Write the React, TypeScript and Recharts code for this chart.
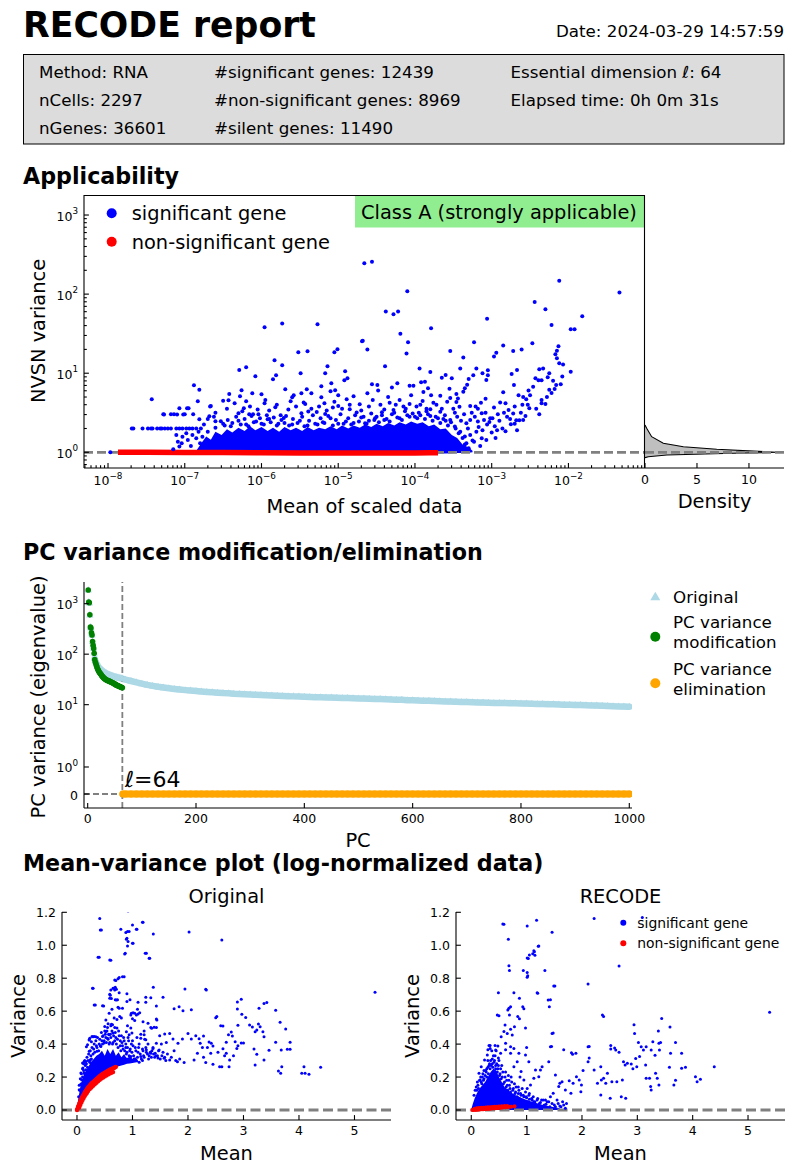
import React from 'react';
import { ComposedChart, Scatter, XAxis, YAxis, Area, Line, ReferenceLine } from 'recharts';

const FONT = '"DejaVu Sans", Verdana, sans-serif';
const TFS = 12.5;
const BLUE = '#0000ff';
const RED = '#ff0000';
const GRAY = '#808080';

// ---------------- header ----------------
const REPORT_TITLE = 'RECODE report';
const REPORT_DATE = 'Date: 2024-03-29 14:57:59';
const INFO_COL1 = ['Method: RNA', 'nCells: 2297', 'nGenes: 36601'];
const INFO_COL2 = ['#significant genes: 12439', '#non-significant genes: 8969', '#silent genes: 11490'];
const INFO_COL3 = ['Essential dimension \u2113: 64', 'Elapsed time: 0h 0m 31s'];

// ---------------- applicability (values as [log10 mean, log10 NVSN variance]) ----------------
const SIG_GENES_LOG: number[][] = [
  [-5.96,1.58],[-5.73,1.63],[-5.27,1.62],[-4.69,1.405],[-6.29,1.04],[-6.2,1.076],[-6.08,0.962],[-5.52,1.266],[-5.4,1.278],[-5.05,1.266],[-5.01,1.304],[-5.83,1.165],[-5.73,1.1],[-5.85,0.924],[-5.81,0.975],[-5.49,1.0],[-5.17,1.0],[-5.14,1.089],[-5.09,0.873],[-5.22,0.835],[-4.92,0.911],[-4.88,0.937],[-4.91,1.025],[-5.69,0.797],[-5.58,0.722],[-5.48,0.747],[-5.41,0.797],[-5.35,0.747],[-5.22,0.696],[-5.1,0.772],[-5.0,0.722],[-5.04,0.785],[-4.89,0.671],[-4.72,0.608],[-4.85,0.544],[-4.76,0.502],[-5.07,0.565],[-5.0,0.586],[-5.18,0.62],[-5.43,0.612],[-5.28,0.51],[-5.17,0.485],[-5.62,0.646],[-5.6,0.696],[-5.48,0.494],[-5.39,0.515],[-5.82,0.57],[-5.75,0.468],[-5.71,0.435],[-5.96,0.62],[-6.0,0.734],[-6.12,0.747],[-6.26,0.785],[-6.28,0.709],[-6.2,0.646],[-6.43,0.658],[-6.23,0.557],[-6.3,0.494],[-6.16,0.481],[-6.11,0.481],[-6.04,0.481],[-5.92,0.418],[-6.53,0.392],[-6.67,0.578],[-6.83,0.646],[-6.88,0.848],[-6.97,0.557],[-7.0,0.481],[-6.89,0.481],[-6.81,0.418],[-6.68,0.456],[-6.6,0.392],[-7.28,0.481],[-7.18,0.481],[-7.14,0.481],
  [-7.69,0.301],[-7.67,0.301],[-7.55,0.301],[-7.48,0.301],[-7.44,0.301],[-7.42,0.301],[-7.36,0.301],[-7.32,0.301],[-7.3,0.301],[-7.26,0.301],[-7.22,0.301],[-7.18,0.301],[-7.11,0.301],[-7.07,0.301],[-7.03,0.301],[-6.98,0.301],[-6.94,0.301],[-6.9,0.301],[-6.85,0.301],[-6.79,0.301],
  [-7.27,0.477],[-7.1,0.477],[-7.02,0.477],[-7.07,0.556],[-6.95,0.556],[-6.81,0.79],[-6.66,0.585],[-6.5,0.652],[-6.42,0.737],[-7.43,0.67],
  [-7.15,0.038],[-7.09,0.135],[-7.03,0.198],[-7.04,0.114],[-6.98,0.24],[-6.96,0.156],[-6.92,0.08],[-6.9,0.22],[-6.85,0.177],[-6.82,0.26],[-6.8,0.114],[-6.77,0.198],[-6.73,0.072],[-6.7,0.26],[-7.11,0.22],[-7.07,0.072],[-7.97,0.0],
  [-6.5,0.36],[-6.3,0.4],[-6.1,0.38],[-5.9,0.42],[-5.7,0.37],[-5.5,0.4],[-5.3,0.36],[-5.1,0.43],[-4.9,0.39],[-4.7,0.44],[-4.5,0.45],[-4.4,0.41],[-4.3,0.48],[-4.1,0.47],[-3.95,0.5],[-3.8,0.46],[-3.7,0.43],[-3.6,0.4],[-6.4,0.33],[-5.6,0.35],[-4.6,0.4],[-4.0,0.45],[-6.6,0.31],[-6.2,0.35],[-5.8,0.34],[-5.2,0.38],[-4.8,0.37],[-4.2,0.43],[-3.85,0.52],[-6.0,0.36],[-5.4,0.34],[-5.0,0.36],
  [-6.48,0.34],[-6.44,0.41],[-6.38,0.37],[-6.33,0.45],[-6.27,0.35],[-6.22,0.42],[-6.17,0.33],[-6.13,0.46],[-6.07,0.39],[-6.02,0.43],[-5.97,0.35],[-5.93,0.47],[-5.88,0.38],[-5.84,0.44],[-5.78,0.36],[-5.74,0.41],[-5.68,0.46],[-5.64,0.34],[-5.59,0.42],[-5.53,0.37],[-5.47,0.45],[-5.44,0.33],[-5.38,0.4],[-5.33,0.47],[-5.27,0.35],[-5.23,0.43],[-5.18,0.37],[-5.13,0.46],[-5.07,0.34],[-5.03,0.41],[-4.97,0.48],[-4.93,0.36],[-4.87,0.43],[-4.83,0.35],[-4.78,0.47],[-4.73,0.39],[-4.67,0.45],[-4.63,0.36],[-4.57,0.49],[-4.53,0.41],[-4.47,0.38],[-4.43,0.47],[-4.37,0.42],[-4.33,0.39],[-4.27,0.5],[-4.23,0.44],[-4.17,0.41],[-4.13,0.52],[-4.07,0.45],[-4.03,0.49],[-3.97,0.43],[-3.93,0.47],[-3.87,0.42],[-3.83,0.48],[-3.77,0.4],[-3.73,0.45],[-3.67,0.37],[-3.63,0.42],[-3.57,0.34],[-3.53,0.38],[-3.47,0.3],[-3.43,0.24],[-3.38,0.18],[-3.35,0.1],[-3.3,0.05],
  [-6.45,0.55],[-6.35,0.62],[-6.25,0.52],[-6.15,0.58],[-6.05,0.54],[-5.95,0.66],[-5.9,0.53],[-5.8,0.6],[-5.65,0.54],[-5.55,0.58],[-5.45,0.63],[-5.35,0.55],[-5.25,0.58],[-5.15,0.53],[-5.05,0.64],[-4.95,0.55],[-4.85,0.6],[-4.8,0.71],[-4.7,0.53],[-4.6,0.58],[-4.55,0.66],[-4.45,0.6],[-4.4,0.54],[-4.35,0.7],[-4.25,0.6],[-4.2,0.66],[-4.12,0.55],[-4.05,0.72],[-3.98,0.58],[-3.9,0.65],[-3.85,0.55],[-3.72,0.6],[-3.65,0.55],[-3.58,0.64],[-3.5,0.55],[-3.44,0.68],[-6.6,0.5],[-6.7,0.42],[-6.75,0.35],[-6.62,0.45],
  [-3.4,0.4],[-3.36,0.48],[-3.31,0.3],[-3.26,0.5],[-3.17,0.32],[-3.12,0.28],[-3.06,0.35],[-3.0,0.25],[-2.96,0.33],[-2.9,0.4],[-2.86,0.3],[-2.8,0.45],[-2.76,0.42],[-2.7,0.36],[-2.62,0.5],[-2.56,0.46],[-2.53,0.6],[-3.35,0.2],[-3.25,0.15],[-3.15,0.08],[-3.38,0.05],[-3.45,0.45],[-3.48,0.5],[-3.18,0.55],[-3.08,0.5],[-2.92,0.48],[-2.84,0.5],[-2.7,0.58],[-2.42,0.55],[-2.35,0.62],[-2.28,0.7],[-2.22,0.75],[-2.18,0.8],[-2.16,0.85],
  [-4.66,2.39],[-4.56,2.41],[-4.1,2.035],[-4.38,1.78],[-4.28,1.745],[-4.22,1.78],[-4.19,1.5],[-3.79,1.57],[-4.09,1.39],[-4.11,1.25],[-4.68,1.41],[-4.62,1.3],[-3.06,1.69],[-2.12,2.17],[-1.335,2.02],[-2.44,1.9],[-2.3,1.81],[-2.22,1.61],[-1.82,1.72],[-1.97,1.555],[-1.92,1.555],[-2.47,1.38],[-3.23,1.39],[-3.54,1.28],[-3.37,1.2],[-2.85,1.35],[-2.72,1.28],[-2.61,1.3],[-2.94,1.26],[-2.97,1.21],[-2.13,1.34],[-2.15,1.285],[-2.17,1.24],[-2.15,1.19],[-2.12,1.125],[-2.07,1.11],[-1.97,1.02],[-2.08,0.96],[-2.1,0.86],[-2.2,0.905],[-2.25,0.79],[-2.25,1.0],[-2.33,1.06],[-2.38,1.05],[-2.27,0.95],[-2.35,0.91],[-2.39,0.91],[-2.43,0.935],[-2.46,0.83],[-2.52,0.78],[-2.5,0.72],[-2.55,0.67],[-2.59,0.7],[-2.65,0.72],[-2.6,0.6],[-2.51,0.556],[-2.38,0.48],[-2.3,0.61],[-2.35,0.66],[-2.67,1.04],[-2.74,0.99],[-2.71,0.85],[-2.85,0.76],[-2.89,0.63],[-2.82,0.62],[-2.78,0.535],[-2.72,0.49],[-2.68,0.405],[-2.59,0.41],[-2.64,0.405],[-2.82,0.265],[-2.67,0.278],[-2.75,0.354],[-2.93,0.278],[-2.95,0.18],[-2.99,0.43],[-3.03,0.383],[-2.97,0.565],[-3.05,1.037],[-3.05,0.973],[-3.07,0.914],[-3.12,1.0],[-3.2,1.06],[-3.24,0.973],[-3.3,0.927],[-3.32,0.855],[-3.35,0.81],[-3.37,0.767],[-3.41,1.06],[-3.52,0.935],[-3.6,0.978],[-3.65,0.944],[-3.8,1.016],[-3.87,0.893],[-3.92,0.885],[-3.94,1.06],[-4.02,0.84],[-3.89,0.763],[-3.83,0.81],[-3.79,0.72],[-3.67,0.716],[-3.55,0.805],[-3.46,0.737],[-3.54,0.687],[-3.46,0.636],[-3.42,0.577],[-3.28,0.586],[-3.21,0.58],[-3.14,0.628],[-3.08,0.678],[-3.13,0.493],[-3.22,0.45],[-3.28,0.41],[-3.33,0.367],[-3.18,0.388],[-3.1,0.41],[-3.02,0.43],[-3.2,0.26],[-3.13,0.177],[-3.07,0.156],[-3.23,0.135],[-3.33,0.114],[-3.28,0.22],[-3.41,0.26],[-3.48,0.325],[-3.54,0.41],[-3.61,0.47],[-3.67,0.514],[-4.07,0.84],[-4.23,0.872],[-4.3,0.82],[-4.48,0.78],[-4.49,0.85],[-4.56,0.86],[-4.62,0.746],[-4.39,1.087],[-4.07,0.61],[-4.15,0.58],[-4.28,0.535],[-4.43,0.506],[-4.52,0.43],[-4.65,0.367],[-4.33,0.628],[-3.93,0.6],[-3.8,0.544],[-3.76,0.628],
];
// densely packed significant genes: upper edge of the packed cloud, [log10 mean, log10 low, log10 high]
const SIG_CORE_LOG: number[][] = [
  [-6.85,0,0.02],[-6.78,0,0.12],[-6.72,0,0.2],[-6.66,0,0.16],[-6.6,0,0.26],[-6.52,0,0.22],[-6.45,0,0.29],[-6.38,0,0.25],[-6.3,0,0.31],[-6.22,0,0.27],[-6.15,0,0.33],[-6.08,0,0.28],[-6.0,0,0.32],[-5.92,0,0.27],[-5.85,0,0.31],[-5.77,0,0.26],[-5.7,0,0.32],[-5.62,0,0.28],[-5.55,0,0.31],[-5.47,0,0.27],[-5.4,0,0.32],[-5.32,0,0.28],[-5.25,0,0.31],[-5.17,0,0.29],[-5.1,0,0.33],[-5.02,0,0.29],[-4.95,0,0.34],[-4.87,0,0.3],[-4.8,0,0.34],[-4.72,0,0.31],[-4.65,0,0.35],[-4.57,0,0.32],[-4.5,0,0.36],[-4.42,0,0.33],[-4.35,0,0.37],[-4.27,0,0.34],[-4.2,0,0.38],[-4.12,0,0.35],[-4.05,0,0.39],[-3.97,-0.005,0.36],[-3.9,-0.01,0.38],[-3.82,-0.012,0.33],[-3.75,-0.015,0.35],[-3.67,-0.015,0.29],[-3.6,-0.015,0.3],[-3.52,-0.012,0.22],[-3.45,-0.01,0.18],[-3.38,-0.008,0.1],[-3.3,-0.005,0.06],[-3.25,0,0.02],
];
// non-significant genes: centre line of their band, [log10 mean, log10 NVSN variance]
const NONSIG_BAND_LOG: number[][] = [
  [-7.87,0.0],[-7.5,0.0],[-7.0,-0.002],[-6.5,-0.004],[-6.0,-0.006],[-5.5,-0.008],[-5.0,-0.008],[-4.5,-0.008],[-4.0,-0.008],[-3.8,-0.007],[-3.7,-0.005],
];
// density of NVSN variance
const DENSITY_NV = [0.855, 0.88, 0.924, 0.971, 1.0, 1.017, 1.091, 1.177, 1.3, 1.575, 2.01, 2.21];
const DENSITY_VAL = [0, 0.32, 2.1, 8.5, 12.66, 11.7, 6.9, 3.69, 1.76, 0.64, 0.16, 0];

const APP_X_DOMAIN = [4.864e-9, 0.0995];
const APP_Y_DOMAIN = [0.6333, 1791];
const DENS_X_TICKS = [0, 5, 10];

// ---------------- PC variance ----------------
const MODIFIED_VALUES = [1870,1080,1040,600,345,330,265,240,178,150,130,104,78,70,66,60,56,52,49,47,45,43,42,40.5,39,37.5,36.5,35.5,34.5,33.5,33,32.3,31.8,31.2,30.8,30.4,30.1,29.8,29.5,29.2,28.8,28.5,28.1,27.8,27.5,27.1,26.8,26.4,26.0,25.6,25.2,24.9,24.6,24.3,24.0,23.7,23.4,23.1,22.8,22.6,22.3,22.1,21.9,21.6];
const ORIGINAL_PCS = [1,2,3,4,5,6,7,8,9,10,11,12,13,14,15,16,17,18,19,20,22,24,26,28,30,32,34,36,38,40,42,44,46,48,50,52,54,56,58,60,62,64,70,80,90,100,110,120,130,140,150,160,170,180,190,200,210,220,230,240,250,260,270,280,290,300,310,320,330,340,350,360,370,380,390,400,410,420,430,440,450,460,470,480,490,500,510,520,530,540,550,560,570,580,590,600,610,620,630,640,650,660,670,680,690,700,710,720,730,740,750,760,770,780,790,800,810,820,830,840,850,860,870,880,890,900,910,920,930,940,950,960,970,980,990,1000];
const ORIGINAL_VALUES = [1870,1080,1040,600,345,330,265,240,178,152,132,106,82,75,71,67,64,61,58,56,53,50.5,48.3,46.3,44.6,43.1,41.8,40.7,39.8,39.0,38.3,37.6,37.0,36.4,35.9,35.4,34.9,34.4,34.0,33.6,33.2,32.8,31.3,29.4,27.7,26.1,24.7,23.6,22.6,21.8,21.1,20.5,19.9,19.4,19.0,18.6,18.2,17.9,17.6,17.3,17.0,16.8,16.5,16.3,16.1,15.9,15.7,15.5,15.35,15.2,15.05,14.9,14.75,14.6,14.5,14.35,14.2,14.1,14.0,13.9,13.8,13.7,13.6,13.5,13.4,13.3,13.2,13.1,13.0,12.9,12.8,12.7,12.55,12.45,12.3,12.2,12.1,12.0,11.9,11.8,11.7,11.6,11.5,11.4,11.3,11.25,11.15,11.05,11.0,10.9,10.85,10.8,10.75,10.7,10.65,10.6,10.5,10.4,10.35,10.3,10.25,10.2,10.1,10.0,9.95,9.9,9.8,9.7,9.65,9.6,9.5,9.4,9.3,9.25,9.15,9.1];
const ELIMINATION_PCS = [65,70,80,90,100,110,120,130,140,150,160,170,180,190,200,210,220,230,240,250,260,270,280,290,300,310,320,330,340,350,360,370,380,390,400,410,420,430,440,450,460,470,480,490,500,510,520,530,540,550,560,570,580,590,600,610,620,630,640,650,660,670,680,690,700,710,720,730,740,750,760,770,780,790,800,810,820,830,840,850,860,870,880,890,900,910,920,930,940,950,960,970,980,990,1000];
const ELIMINATED_VARIANCE = 0;
const ELL = 64;
const PC_X_TICKS = [0, 200, 400, 600, 800, 1000];
const PC_Y_TICKS = [0, 1, 10, 100, 1000];
const SYM_T = 2;
const SYM_ADJ = 1.07;
const symlog = (v: number) => (v <= SYM_T ? v * SYM_ADJ : SYM_T * (SYM_ADJ + Math.log10(v / SYM_T)));

// ---------------- mean-variance (Original) ----------------
const ORIG_SIG: number[][] = [
  [0.92,1.208],[0.41,1.163],[0.42,1.093],[1.0,1.123],[0.88,1.077],[0.91,1.083],[1.07,1.097],[1.18,1.139],[1.375,1.068],[1.0,1.012],[0.89,1.036],[0.91,0.996],[0.86,0.947],[1.23,0.951],[1.3,0.921],[0.59,0.911],[0.38,0.927],[2.02,1.08],[2.61,1.032],[1.945,0.734],[2.32,0.733],[2.33,0.729],[5.37,0.714],[0.28,0.739],[0.31,0.637],[0.46,0.633],[1.375,0.745],[1.55,0.684],[1.43,0.631],[1.33,0.682],[1.24,0.654],[1.91,0.603],[1.84,0.627],[2.06,0.609],[1.75,0.615],[2.52,0.567],[2.5,0.56],[2.89,0.656],[2.96,0.672],[2.89,0.613],[2.97,0.581],[3.04,0.561],[3.28,0.617],[3.37,0.646],[3.42,0.652],[3.58,0.605],[3.66,0.532],[3.76,0.492],
  [2.59,0.512],[2.63,0.51],[2.9,0.514],[2.78,0.473],[2.73,0.457],[2.8,0.449],[2.69,0.411],[2.85,0.415],[2.9,0.39],[2.96,0.407],[3.0,0.407],[3.11,0.516],[3.16,0.504],[3.21,0.475],[3.24,0.486],[3.3,0.506],[3.27,0.522],[3.35,0.475],[3.37,0.445],[3.19,0.37],[3.24,0.338],[3.21,0.273],[3.37,0.304],[3.46,0.362],[3.58,0.411],[3.68,0.364],[3.79,0.368],[3.84,0.368],[3.84,0.411],[3.63,0.237],[3.67,0.223],[3.69,0.263],[4.05,0.223],[4.09,0.263],[4.11,0.223],[4.18,0.217],[4.39,0.259],
  [2.57,0.263],[2.61,0.263],[2.74,0.263],[2.45,0.277],[2.28,0.32],[2.32,0.289],[2.41,0.344],[2.26,0.38],[2.35,0.38],[2.2,0.433],[2.28,0.449],[2.22,0.405],[2.45,0.389],[2.38,0.413],[2.42,0.405],[2.54,0.35],[2.66,0.33],[2.69,0.344],[2.63,0.372],[2.75,0.304],[2.82,0.33],[2.88,0.374],
  [2.06,0.431],[2.14,0.451],[2.0,0.465],[1.9,0.431],[1.82,0.405],[1.73,0.431],[1.67,0.465],[1.58,0.461],[1.49,0.451],[1.61,0.409],[1.52,0.4],[1.43,0.405],[1.37,0.374],[1.48,0.364],[1.57,0.314],[1.67,0.304],[1.85,0.31],[1.81,0.293],[1.93,0.289],[2.11,0.304],[2.17,0.344],
  [1.345,0.496],[1.39,0.502],[1.43,0.552],[1.28,0.526],[1.21,0.48],[1.19,0.536],[1.13,0.591],[1.07,0.577],[1.01,0.591],[0.97,0.577],[1.09,0.611],[1.24,0.684],[1.1,0.654],
  [0.74,0.623],[0.71,0.668],[0.76,0.712],[0.68,0.728],[0.65,0.739],[0.61,0.728],[0.59,0.702],[0.68,0.789],[0.74,0.797],[0.82,0.809],[0.85,0.809],[0.59,0.678],
  [0.22,0.425],[0.23,0.435],[0.26,0.415],[0.29,0.445],[0.34,0.445],[0.17,0.384],
  [0.44,1.093],[0.79,1.097],[0.94,1.083],[1.19,1.139],[1.08,1.097],[0.9,1.042],[0.92,1.022],[1.01,1.012],[0.87,0.952],[1.25,0.952],[1.31,0.921],[0.4,0.927],[0.61,0.909],[0.7,0.786],[0.76,0.804],[0.29,0.739],[0.66,0.739],[0.71,0.733],[0.69,0.745],[0.9,0.705],[0.33,0.638],[0.48,0.632],[0.6,0.697],[0.62,0.677],[0.69,0.669],[0.73,0.669],[0.76,0.618],[0.82,0.618],[0.9,0.658],[0.955,0.669],[0.98,0.588],[1.04,0.588],[1.1,0.582],[1.0,0.554],[1.04,0.543],[0.63,0.612],[0.58,0.588],[0.8,0.558],[0.67,0.558],[0.77,0.568],[0.52,0.547],[0.56,0.523],[0.5,0.507],[0.61,0.511],[0.72,0.497],[0.91,0.511],[0.97,0.497],[0.89,0.475],[0.94,0.457],[0.99,0.467],[1.21,0.457],[1.15,0.436],[1.24,0.426],[1.33,0.501],[1.43,0.501],[1.44,0.547],[1.25,0.366],[1.33,0.345],[1.41,0.345],[1.46,0.315],[1.15,0.325],[1.06,0.305],[0.97,0.325],[0.31,0.446],[0.27,0.446],[0.22,0.426],[0.19,0.396],[0.16,0.295],[0.13,0.295],[0.1,0.285],[0.24,0.305],[0.22,0.356],[0.36,0.356],[0.43,0.386],[0.49,0.406],[0.55,0.436],[0.46,0.446],[0.645,0.467],[0.52,0.477],[0.58,0.457],[0.64,0.517],[0.07,0.224],[0.084,0.184],[0.06,0.154],[0.04,0.123],[0.13,0.224],[0.16,0.244],[0.107,0.255],[0.25,0.285],
  [1.0,0.42],[1.05,0.38],[1.1,0.35],[1.12,0.4],[1.18,0.37],[1.2,0.33],[1.25,0.35],[1.28,0.4],[1.3,0.33],[1.35,0.36],[1.38,0.34],[1.4,0.32],[1.45,0.33],[1.5,0.31],[1.55,0.35],[1.6,0.3],[1.02,0.33],[0.95,0.36],[0.98,0.4],[1.08,0.44],[1.15,0.46],[1.22,0.43],[0.92,0.44],[0.88,0.38],[0.85,0.42],[0.8,0.45],[0.75,0.48],[0.7,0.44],[0.65,0.41],[0.6,0.46],[0.55,0.5],[0.5,0.48],[0.45,0.42],[0.4,0.4],[0.35,0.39],[0.3,0.37],[0.25,0.33],[0.2,0.3],[0.15,0.27],[0.62,0.52],[0.68,0.5],[0.72,0.55],[0.78,0.42],[0.82,0.39],[0.9,0.35],[0.58,0.4],[0.52,0.44],
  [0.03,0.08],[0.05,0.12],[0.04,0.15],[0.06,0.19],[0.08,0.16],[0.08,0.22],[0.1,0.2],[0.1,0.25],[0.12,0.24],[0.12,0.28],[0.14,0.22],[0.14,0.3],[0.17,0.28],[0.18,0.32],[0.19,0.26],[0.21,0.34],[0.23,0.29],[0.24,0.36],[0.26,0.31],[0.27,0.38],[0.29,0.34],[0.31,0.4],[0.32,0.35],[0.34,0.42],[0.36,0.38],[0.37,0.44],[0.39,0.36],[0.41,0.43],[0.42,0.39],[0.44,0.47],[0.46,0.4],[0.47,0.45],[0.49,0.42],[0.51,0.46],[0.53,0.41],[0.54,0.48],[0.56,0.43],[0.57,0.46],[0.59,0.41],[0.61,0.44],[0.63,0.48],[0.64,0.4],[0.66,0.45],[0.68,0.42],[0.69,0.47],[0.71,0.4],[0.73,0.43],[0.74,0.38],[0.76,0.45],[0.78,0.39],[0.79,0.36],[0.81,0.41],[0.83,0.37],[0.84,0.44],[0.86,0.36],[0.88,0.4],[0.89,0.34],[0.91,0.38],[0.93,0.42],[0.94,0.33],[0.96,0.37],[0.99,0.35],[1.01,0.39],[1.03,0.31],[1.06,0.36],[1.09,0.32],[1.11,0.38],[1.14,0.34],[1.16,0.31],[1.19,0.36],[1.21,0.32],[1.24,0.38],[1.27,0.34],[1.29,0.31],[1.32,0.35],[1.34,0.32],[1.37,0.38],[1.42,0.33],[1.47,0.36],[1.53,0.33],[1.58,0.32],[1.63,0.34],[1.7,0.32],[1.75,0.36],[1.78,0.3],[0.8,0.3],[0.85,0.3],[0.9,0.31],[0.95,0.3],[1.0,0.3],[1.05,0.3],[0.75,0.29],[1.12,0.29],[1.18,0.3],
];
// dense part of the significant genes: [mean, low, high]
const ORIG_SIG_CORE: number[][] = [
  [0.0,0.0,0.005],[0.02,0.015,0.06],[0.04,0.03,0.1],[0.06,0.045,0.14],[0.09,0.065,0.18],[0.12,0.085,0.21],[0.16,0.108,0.24],[0.2,0.13,0.26],[0.25,0.15,0.29],[0.3,0.168,0.31],[0.35,0.182,0.33],[0.4,0.196,0.34],[0.45,0.208,0.36],[0.5,0.22,0.33],[0.55,0.23,0.37],[0.6,0.24,0.34],[0.65,0.25,0.37],[0.7,0.258,0.33],[0.75,0.265,0.35],[0.8,0.27,0.32],[0.85,0.275,0.34],[0.9,0.28,0.31],[0.95,0.283,0.33],[1.0,0.285,0.31],[1.05,0.288,0.32],[1.1,0.292,0.3],
];
const ORIG_NONSIG: number[][] = [
  [0.0,0.0],[0.01,0.01],[0.02,0.02],[0.03,0.028],[0.04,0.037],[0.05,0.045],[0.06,0.053],[0.07,0.06],[0.08,0.068],[0.09,0.075],[0.1,0.082],[0.115,0.091],[0.13,0.1],[0.145,0.109],[0.16,0.117],[0.175,0.125],[0.19,0.133],[0.205,0.139],[0.22,0.145],[0.235,0.151],[0.25,0.157],[0.265,0.162],[0.28,0.166],[0.295,0.171],[0.31,0.175],[0.325,0.18],[0.34,0.184],[0.355,0.189],[0.37,0.193],[0.385,0.198],[0.4,0.202],[0.415,0.206],[0.43,0.21],[0.445,0.214],[0.46,0.217],[0.475,0.221],[0.49,0.224],[0.505,0.227],[0.52,0.23],[0.535,0.233],[0.55,0.236],[0.565,0.239],[0.58,0.242],[0.595,0.244],[0.61,0.246],[0.625,0.249],[0.64,0.251],[0.655,0.254],[0.67,0.256],[0.685,0.259],[0.7,0.262],
  [0.04,0.015],[0.06,0.031],[0.08,0.046],[0.1,0.06],[0.12,0.073],[0.14,0.085],[0.16,0.095],[0.18,0.105],[0.2,0.115],[0.23,0.127],[0.26,0.137],[0.29,0.147],[0.32,0.156],[0.35,0.165],[0.38,0.174],[0.41,0.183],[0.44,0.191],[0.47,0.197],[0.5,0.204],[0.53,0.21],[0.56,0.216],[0.59,0.221],[0.62,0.226],[0.65,0.23],
];

// ---------------- mean-variance (RECODE) ----------------
const REC_SIG: number[][] = [
  [2.22,1.163],[3.09,1.168],[0.57,1.129],[1.01,1.117],[1.18,1.151],[1.46,1.079],[0.67,1.036],[1.21,0.994],[1.13,0.967],[1.11,0.949],[1.01,0.923],[1.03,0.919],[1.05,0.941],[0.68,0.876],[2.67,0.874],[0.69,0.846],[0.94,0.846],[1.01,0.834],[1.02,0.815],[1.01,0.805],[1.33,0.846],[1.19,0.712],[0.49,0.712],[0.77,0.712],[1.49,0.753],[2.11,0.765],[0.68,0.617],[0.71,0.627],[0.66,0.607],[0.87,0.678],[0.93,0.627],[0.95,0.615],[1.39,0.668],[1.41,0.627],[2.37,0.577],[2.39,0.567],[0.47,0.577],[0.69,0.577],[0.84,0.567],[0.87,0.554],[0.61,0.516],[0.98,0.498],[2.94,0.518],[2.95,0.465],[3.44,0.556],[3.59,0.504],[1.46,0.465],[0.48,0.389],[0.32,0.391],[0.34,0.374],[1.0,0.38],[1.43,0.384],[2.11,0.384],[3.02,0.409],[3.28,0.415],[3.39,0.405],[3.42,0.409],[3.69,0.409],[3.38,0.48],[3.07,0.384],[3.11,0.364],[3.16,0.384],[3.25,0.364],[3.32,0.332],
  [2.52,0.37],[2.61,0.364],[2.67,0.35],[2.75,0.293],[2.78,0.273],[2.82,0.283],[2.89,0.279],[2.92,0.251],[2.97,0.312],[3.04,0.324],[2.99,0.263],[3.15,0.273],[3.22,0.192],[3.24,0.142],[3.25,0.121],[3.16,0.192],[3.4,0.364],[3.6,0.344],[3.8,0.344],[3.87,0.259],[3.8,0.253],[3.66,0.152],[3.69,0.18],[3.58,0.259],[3.39,0.152],[3.36,0.192],[3.33,0.223],[4.05,0.202],[4.08,0.172],[4.14,0.186],[4.39,0.263],[5.39,0.593],
  [2.22,0.243],[2.28,0.162],[2.35,0.182],[2.39,0.192],[2.43,0.162],[2.34,0.091],[2.51,0.071],[2.54,0.172],[2.63,0.172],[2.73,0.182],[2.79,0.071],[2.71,0.081],[2.46,0.223],[2.34,0.263],[2.02,0.239],[2.11,0.293],[1.81,0.348],[1.89,0.344],
  [1.95,0.182],[1.99,0.152],[1.9,0.202],[1.84,0.162],[1.77,0.178],[1.7,0.121],[1.8,0.101],[1.98,0.111],[1.64,0.172],[1.6,0.162],[1.58,0.142],[1.52,0.212],[1.48,0.101],[1.43,0.081],[1.34,0.061],[1.4,0.293],
  [1.28,0.263],[1.22,0.202],[1.25,0.243],[1.16,0.243],[1.13,0.192],[1.07,0.152],[1.01,0.131],[0.95,0.182],[0.9,0.233],[0.83,0.293],[0.77,0.263],[1.04,0.293],[0.98,0.334],[0.86,0.344],[0.77,0.374],[0.71,0.384],[0.62,0.405],[0.54,0.445],[0.59,0.476],[0.65,0.465],[0.74,0.455],[0.78,0.506],[0.71,0.49],[0.44,0.364],[0.29,0.334],[0.24,0.304],[0.18,0.263],[0.14,0.223],[0.16,0.182],[0.23,0.239],
  [0.59,1.127],[1.22,0.996],[1.14,0.96],[1.15,0.94],[1.2,0.709],[1.43,0.669],[1.51,0.752],[1.48,0.467],[1.45,0.386],[1.67,0.366],[1.83,0.339],[2.13,0.386],[2.52,0.392],[2.59,0.376],[2.13,0.315],[0.5,0.572],[0.34,0.392],[0.3,0.366],[0.43,0.392],[0.49,0.315],[0.53,0.345],[0.62,0.366],[0.71,0.345],
  [0.1,0.12],[0.12,0.15],[0.18,0.17],[0.2,0.2],[0.25,0.21],[0.28,0.25],[0.32,0.27],[0.35,0.3],[0.38,0.28],[0.42,0.3],[0.44,0.27],[0.48,0.25],[0.52,0.22],[0.56,0.2],[0.6,0.17],[0.65,0.15],[0.7,0.13],[0.75,0.12],[0.8,0.11],[0.85,0.1],[0.9,0.09],[0.95,0.08],[1.0,0.075],[1.05,0.065],[1.1,0.06],[1.15,0.05],[1.25,0.045],[1.35,0.035],[1.5,0.03],[1.6,0.025],[1.65,0.05],[1.55,0.06],[1.4,0.05],[0.4,0.33],[0.37,0.36],[0.45,0.36],[0.5,0.3],[0.55,0.27],[0.3,0.3],[0.27,0.23],[0.22,0.18],[0.62,0.23],[0.68,0.18],[0.72,0.2],[0.78,0.16],[0.85,0.14],[0.88,0.2],[0.92,0.13],[0.98,0.11],[1.05,0.1],[1.12,0.08],[1.2,0.07],[1.3,0.06],
  [0.05,0.09],[0.07,0.12],[0.09,0.14],[0.11,0.17],[0.13,0.13],[0.15,0.18],[0.17,0.2],[0.19,0.16],[0.21,0.22],[0.23,0.19],[0.26,0.24],[0.28,0.2],[0.3,0.26],[0.31,0.22],[0.33,0.28],[0.34,0.25],[0.36,0.27],[0.38,0.31],[0.39,0.26],[0.41,0.29],[0.43,0.33],[0.44,0.25],[0.46,0.28],[0.47,0.23],[0.49,0.27],[0.51,0.21],[0.53,0.25],[0.54,0.19],[0.57,0.23],[0.58,0.16],[0.61,0.2],[0.63,0.14],[0.64,0.18],[0.66,0.12],[0.67,0.21],[0.69,0.15],[0.71,0.11],[0.73,0.17],[0.74,0.09],[0.76,0.13],[0.79,0.1],[0.81,0.14],[0.83,0.08],[0.86,0.12],[0.87,0.07],[0.89,0.1],[0.91,0.06],[0.94,0.09],[0.96,0.05],[0.99,0.08],[1.02,0.05],[1.04,0.09],[1.07,0.04],[1.09,0.07],[1.13,0.05],[1.17,0.03],[1.19,0.06],[1.23,0.04],[1.27,0.06],[1.32,0.03],[1.37,0.05],[1.42,0.02],[1.46,0.04],[1.52,0.02],[1.57,0.04],[1.62,0.02],[1.67,0.03],[1.7,0.01],[1.72,0.04],
];
const REC_SIG_CORE: number[][] = [
  [0.0,0.0,0.005],[0.03,0.0,0.04],[0.06,0.0,0.07],[0.1,0.0,0.1],[0.15,0.0,0.13],[0.2,0.0,0.15],[0.25,0.0,0.17],[0.3,0.0,0.2],[0.35,0.0,0.23],[0.4,0.0,0.25],[0.45,0.0,0.24],[0.5,0.0,0.2],[0.55,0.0,0.17],[0.6,0.0,0.14],[0.7,0.0,0.11],[0.8,0.0,0.09],[0.9,0.0,0.075],[1.0,0.0,0.06],[1.1,0.0,0.05],[1.2,0.0,0.04],[1.3,0.0,0.03],[1.45,0.0,0.02],[1.6,0.0,0.01],
];
const REC_NONSIG: number[][] = [
  [0.02,0.0],[0.04,0.001],[0.06,0.001],[0.08,0.002],[0.1,0.002],[0.12,0.003],[0.14,0.003],[0.16,0.004],[0.18,0.004],[0.2,0.005],[0.22,0.005],[0.24,0.006],[0.26,0.006],[0.28,0.007],[0.3,0.008],[0.32,0.008],[0.34,0.009],[0.36,0.009],[0.38,0.01],[0.4,0.01],[0.42,0.011],[0.44,0.011],[0.46,0.012],[0.48,0.012],[0.5,0.013],[0.53,0.014],[0.56,0.015],[0.59,0.016],[0.62,0.017],[0.65,0.018],[0.68,0.019],[0.72,0.02],[0.78,0.022],
  [0.06,0.008],[0.1,0.01],[0.14,0.012],[0.18,0.013],[0.22,0.014],[0.26,0.015],[0.3,0.016],[0.34,0.017],[0.38,0.018],[0.42,0.019],[0.46,0.02],[0.5,0.021],[0.55,0.022],[0.6,0.024],[0.65,0.025],
];
const MV_X_TICKS = [0, 1, 2, 3, 4, 5];
const MV_Y_TICKS = [0, 0.2, 0.4, 0.6, 0.8, 1.0, 1.2];
const MV_Y_DOMAIN = [-0.0607, 1.2018];

// ---------------- helpers ----------------
const isPow10 = (v: number) => v > 0 && Math.abs(Math.log10(v) - Math.round(Math.log10(v))) < 1e-6;
const powLabel = (e: number) => (
  <>
    10<tspan dy={-6.5} fontSize={8.8}>{e < 0 ? '\u2212' + -e : String(e)}</tspan>
  </>
);
const logFmt = (v: number) => (isPow10(v) ? powLabel(Math.round(Math.log10(v))) : null);
const intFmt = (v: number) => String(v);
const fixed1 = (v: number) => v.toFixed(1);
const symFmt = (t: number) => {
  const i = PC_Y_TICKS.findIndex((v) => Math.abs(symlog(v) - t) < 1e-6);
  if (i < 0) return null;
  const v = PC_Y_TICKS[i];
  return v === 0 ? '0' : powLabel(Math.round(Math.log10(v)));
};

function logTicks(lo: number, hi: number) {
  const out: number[] = [];
  for (let e = Math.floor(Math.log10(lo)); e <= Math.ceil(Math.log10(hi)); e++) {
    for (let k = 1; k <= 9; k++) {
      const v = k * Math.pow(10, e);
      if (v >= lo && v <= hi) out.push(v);
    }
  }
  return out;
}

function Tick(props: any) {
  const { x, y, payload, tside, tfmt, tdy } = props;
  const lab = tfmt(payload.value);
  const len = lab === null ? 2.8 : 4.9;
  if (tside === 'bottom') {
    return (
      <g>
        <line x1={x} x2={x} y1={y} y2={y - len} stroke="#000" strokeWidth={1.1} />
        {lab !== null && (
          <text x={x} y={y + tdy} textAnchor="middle" fontSize={TFS} fontFamily={FONT} fill="#000">{lab}</text>
        )}
      </g>
    );
  }
  return (
    <g>
      <line x1={x} x2={x + len} y1={y} y2={y} stroke="#000" strokeWidth={1.1} />
      {lab !== null && (
        <text x={x - 6} y={y + tdy} textAnchor="end" fontSize={TFS} fontFamily={FONT} fill="#000">{lab}</text>
      )}
    </g>
  );
}

const dot = (r: number, fill: string) => (p: any) => <circle cx={p.cx} cy={p.cy} r={r} fill={fill} />;
const tri = (fill: string) => (p: any) => (
  <polygon points={`${p.cx},${p.cy - 4} ${p.cx - 3.6},${p.cy + 2.6} ${p.cx + 3.6},${p.cy + 2.6}`} fill={fill} />
);
const AXIS_LINE = { stroke: '#000', strokeWidth: 1.1 };

// ---------------- derived rows ----------------
const appSigRows = SIG_GENES_LOG.map(([lx, ly]) => ({ x: Math.pow(10, lx), y: Math.pow(10, ly) }));
const appCoreRows = SIG_CORE_LOG.map(([lx, lo, hi]) => ({ x: Math.pow(10, lx), band: [Math.pow(10, lo), Math.pow(10, hi)] }));
const appNonSigRows = NONSIG_BAND_LOG.map(([lx, ly]) => ({ x: Math.pow(10, lx), y: Math.pow(10, ly) }));
const appDashRows = [{ x: APP_X_DOMAIN[0], y: 1 }, { x: APP_X_DOMAIN[1], y: 1 }];
const densityRows = DENSITY_NV.map((nv, i) => ({ nv, d: DENSITY_VAL[i] }));
const appXTicks = logTicks(APP_X_DOMAIN[0], APP_X_DOMAIN[1]);
const appYTicks = logTicks(APP_Y_DOMAIN[0], APP_Y_DOMAIN[1]);

const modRows = MODIFIED_VALUES.map((v, i) => ({ x: i + 1, y: symlog(v) }));
const origRows = ORIGINAL_PCS.map((pc, i) => ({ x: pc, y: symlog(ORIGINAL_VALUES[i]) }));
const elimRows = ELIMINATION_PCS.map((pc) => ({ x: pc, y: symlog(ELIMINATED_VARIANCE) }));

const toXY = (arr: number[][]) => arr.map(([x, y]) => ({ x, y }));
const toBand = (arr: number[][]) => arr.map(([x, lo, hi]) => ({ x, band: [lo, hi] }));

function MeanVarChart({ left, xDomain, sig, core, nonSig, redR }: any) {
  return (
    <div style={{ position: 'absolute', left, top: 900 }}>
      <ComposedChart width={400} height={260} margin={{ top: 12, right: 9, bottom: 0, left: 0 }}>
        <XAxis type="number" dataKey="x" domain={xDomain} allowDataOverflow ticks={MV_X_TICKS} interval={0}
          tickLine={false} tickSize={0} tickMargin={0} axisLine={AXIS_LINE} height={40}
          tick={<Tick tside="bottom" tfmt={intFmt} tdy={14.5} />} />
        <YAxis type="number" dataKey="y" domain={MV_Y_DOMAIN} allowDataOverflow ticks={MV_Y_TICKS} interval={0}
          tickLine={false} tickSize={0} tickMargin={0} axisLine={AXIS_LINE} width={62}
          tick={<Tick tside="left" tfmt={fixed1} tdy={4.5} />} />
        <ReferenceLine y={0} stroke={GRAY} strokeWidth={2.8} strokeDasharray="10 4.5" />
        <Area data={toBand(core)} dataKey="band" type="linear" stroke="none" fill={BLUE} fillOpacity={1} isAnimationActive={false} />
        <Scatter data={toXY(sig)} shape={dot(1.5, BLUE)} isAnimationActive={false} />
        <Scatter data={toXY(nonSig)} shape={dot(redR, RED)} isAnimationActive={false} />
      </ComposedChart>
    </div>
  );
}

const T = (props: any) => <text fontFamily={FONT} fill="#000" {...props} />;

export default function App() {
  return (
    <div style={{ position: 'absolute', left: 0, top: 0, width: 794, height: 1173, overflow: 'hidden', background: '#fff' }}>
      {/* Applicability scatter */}
      <div style={{ position: 'absolute', left: 0, top: 180 }}>
        <ComposedChart width={660} height={330} margin={{ top: 15, right: 15, bottom: 0, left: 0 }}>
          <XAxis type="number" dataKey="x" scale="log" domain={APP_X_DOMAIN} allowDataOverflow ticks={appXTicks} interval={0}
            tickLine={false} tickSize={0} tickMargin={0} axisLine={AXIS_LINE} height={42}
            tick={<Tick tside="bottom" tfmt={logFmt} tdy={17} />} />
          <YAxis type="number" dataKey="y" scale="log" domain={APP_Y_DOMAIN} allowDataOverflow ticks={appYTicks} interval={0}
            tickLine={false} tickSize={0} tickMargin={0} axisLine={AXIS_LINE} width={84}
            tick={<Tick tside="left" tfmt={logFmt} tdy={5.5} />} />
          <Area data={appCoreRows} dataKey="band" type="linear" stroke="none" fill={BLUE} fillOpacity={1} isAnimationActive={false} />
          <Line data={appDashRows} dataKey="y" type="linear" stroke={GRAY} strokeWidth={2.8} strokeDasharray="9 4" dot={false} isAnimationActive={false} />
          <Line data={appNonSigRows} dataKey="y" type="linear" stroke={RED} strokeWidth={5.5} dot={false} isAnimationActive={false} />
          <Scatter data={appSigRows} shape={dot(2, BLUE)} isAnimationActive={false} />
        </ComposedChart>
      </div>

      {/* Density panel */}
      <div style={{ position: 'absolute', left: 630, top: 180 }}>
        <ComposedChart layout="vertical" width={164} height={330} data={densityRows} margin={{ top: 15, right: 10, bottom: 0, left: 15 }}>
          <XAxis type="number" domain={[0, 13.37]} allowDataOverflow ticks={DENS_X_TICKS} interval={0}
            tickLine={false} tickSize={0} tickMargin={0} axisLine={AXIS_LINE} height={42}
            tick={<Tick tside="bottom" tfmt={intFmt} tdy={15.5} />} />
          <YAxis type="number" dataKey="nv" scale="log" domain={APP_Y_DOMAIN} allowDataOverflow reversed hide />
          <Area dataKey="d" type="linear" stroke="#000" strokeWidth={1.1} fill={GRAY} fillOpacity={0.5} isAnimationActive={false} />
          <ReferenceLine y={1} stroke={GRAY} strokeWidth={2.8} strokeDasharray="9 4" />
        </ComposedChart>
      </div>

      {/* PC variance */}
      <div style={{ position: 'absolute', left: 0, top: 570 }}>
        <ComposedChart width={650} height={280} margin={{ top: 12, right: 18, bottom: 0, left: 0 }}>
          <XAxis type="number" dataKey="x" domain={[-6.8, 1005]} allowDataOverflow ticks={PC_X_TICKS} interval={0}
            tickLine={false} tickSize={0} tickMargin={0} axisLine={AXIS_LINE} height={42}
            tick={<Tick tside="bottom" tfmt={intFmt} tdy={14.5} />} />
          <YAxis type="number" dataKey="y" domain={[-0.554, 8.396]} allowDataOverflow ticks={PC_Y_TICKS.map(symlog)} interval={0}
            tickLine={false} tickSize={0} tickMargin={0} axisLine={AXIS_LINE} width={84}
            tick={<Tick tside="left" tfmt={symFmt} tdy={5.5} />} />
          <Scatter data={origRows} shape={tri('#add8e6')} isAnimationActive={false} />
          <Line data={origRows.slice(12)} dataKey="y" type="linear" stroke="#add8e6" strokeWidth={6.5} strokeLinecap="round" strokeLinejoin="round" dot={false} isAnimationActive={false} />
          <Line data={elimRows} dataKey="y" type="linear" stroke="#ffa500" strokeWidth={7} strokeLinecap="round" dot={false} isAnimationActive={false} />
          <Scatter data={elimRows} shape={dot(3.5, '#ffa500')} isAnimationActive={false} />
          <Scatter data={modRows} shape={dot(2.8, '#008000')} isAnimationActive={false} />
          <ReferenceLine x={ELL} stroke={GRAY} strokeWidth={1.8} strokeDasharray="6 3" />
          <ReferenceLine segment={[{ x: -6.8, y: 0 }, { x: ELL, y: 0 }]} stroke={GRAY} strokeWidth={1.8} strokeDasharray="6 3" />
        </ComposedChart>
      </div>

      <MeanVarChart left={0} xDomain={[-0.27, 5.658]} sig={ORIG_SIG} core={ORIG_SIG_CORE} nonSig={ORIG_NONSIG} redR={2.2} />
      <MeanVarChart left={394} xDomain={[-0.276, 5.668]} sig={REC_SIG} core={REC_SIG_CORE} nonSig={REC_NONSIG} redR={2} />

      {/* text, boxes and legends */}
      <svg style={{ position: 'absolute', left: 0, top: 0 }} width={794} height={1173} pointerEvents="none">
        <T x={23} y={37} fontSize={34.7} fontWeight="bold">{REPORT_TITLE}</T>
        <T x={784} y={37} fontSize={16.7} textAnchor="end">{REPORT_DATE}</T>
        <rect x={23.5} y={54.5} width={760.5} height={89.5} fill="#dcdcdc" stroke="#000" strokeWidth={1} />
        {INFO_COL1.map((s, i) => <T key={'a' + i} x={39} y={78 + i * 28} fontSize={16.7}>{s}</T>)}
        {INFO_COL2.map((s, i) => <T key={'b' + i} x={214} y={78 + i * 28} fontSize={16.7}>{s}</T>)}
        {INFO_COL3.map((s, i) => <T key={'c' + i} x={510.5} y={78 + i * 28} fontSize={16.7}>{s}</T>)}

        <T x={23} y={184} fontSize={22.2} fontWeight="bold">Applicability</T>
        <rect x={355} y={195.5} width={289.5} height={32} fill="#90ee90" />
        <line x1={84} x2={645} y1={195.5} y2={195.5} stroke="#000" strokeWidth={1.1} />
        <line x1={644.5} x2={644.5} y1={195} y2={468} stroke="#000" strokeWidth={1.1} />
        <T x={361} y={218.5} fontSize={19.4}>Class A (strongly applicable)</T>
        <circle cx={111.7} cy={213.3} r={5} fill={BLUE} />
        <T x={131.7} y={220.3} fontSize={19.4}>significant gene</T>
        <circle cx={111.7} cy={241.7} r={5} fill={RED} />
        <T x={131.7} y={248.7} fontSize={19.4}>non-significant gene</T>
        <T transform="translate(45,331) rotate(-90)" textAnchor="middle" fontSize={19.4}>NVSN variance</T>
        <T x={364.5} y={513} textAnchor="middle" fontSize={19.4}>Mean of scaled data</T>
        <T x={714.5} y={507.5} textAnchor="middle" fontSize={19.4}>Density</T>

        <T x={23} y={560} fontSize={22.2} fontWeight="bold">PC variance modification/elimination</T>
        <T transform="translate(45,697) rotate(-90)" textAnchor="middle" fontSize={19.4}>PC variance (eigenvalue)</T>
        <T x={358} y={847} textAnchor="middle" fontSize={19.4}>PC</T>
        <T x={125} y={787} fontSize={22}>{'\u2113=64'}</T>
        <polygon points="655.3,591.7 650.3,600.3 660.3,600.3" fill="#add8e6" />
        <T x={673} y={602.7} fontSize={16.7}>Original</T>
        <circle cx={655.3} cy={636.7} r={5} fill="#008000" />
        <T x={673} y={627.7} fontSize={16.7}>PC variance</T>
        <T x={673} y={647.7} fontSize={16.7}>modification</T>
        <circle cx={655.3} cy={683.3} r={5} fill="#ffa500" />
        <T x={673} y={675} fontSize={16.7}>PC variance</T>
        <T x={673} y={695} fontSize={16.7}>elimination</T>

        <T x={23} y={871} fontSize={22.2} fontWeight="bold">Mean-variance plot (log-normalized data)</T>
        <T x={226.5} y={903} textAnchor="middle" fontSize={19.4}>Original</T>
        <T x={620.5} y={903} textAnchor="middle" fontSize={19.4}>RECODE</T>
        <T transform="translate(25,1016) rotate(-90)" textAnchor="middle" fontSize={19.4}>Variance</T>
        <T transform="translate(419,1016) rotate(-90)" textAnchor="middle" fontSize={19.4}>Variance</T>
        <T x={226.5} y={1160} textAnchor="middle" fontSize={19.4}>Mean</T>
        <T x={620.5} y={1160} textAnchor="middle" fontSize={19.4}>Mean</T>
        <circle cx={623.3} cy={922.7} r={3} fill={BLUE} />
        <T x={637.3} y={927.7} fontSize={13.9}>significant gene</T>
        <circle cx={623.3} cy={943.3} r={3} fill={RED} />
        <T x={637.3} y={948.3} fontSize={13.9}>non-significant gene</T>
      </svg>
    </div>
  );
}
